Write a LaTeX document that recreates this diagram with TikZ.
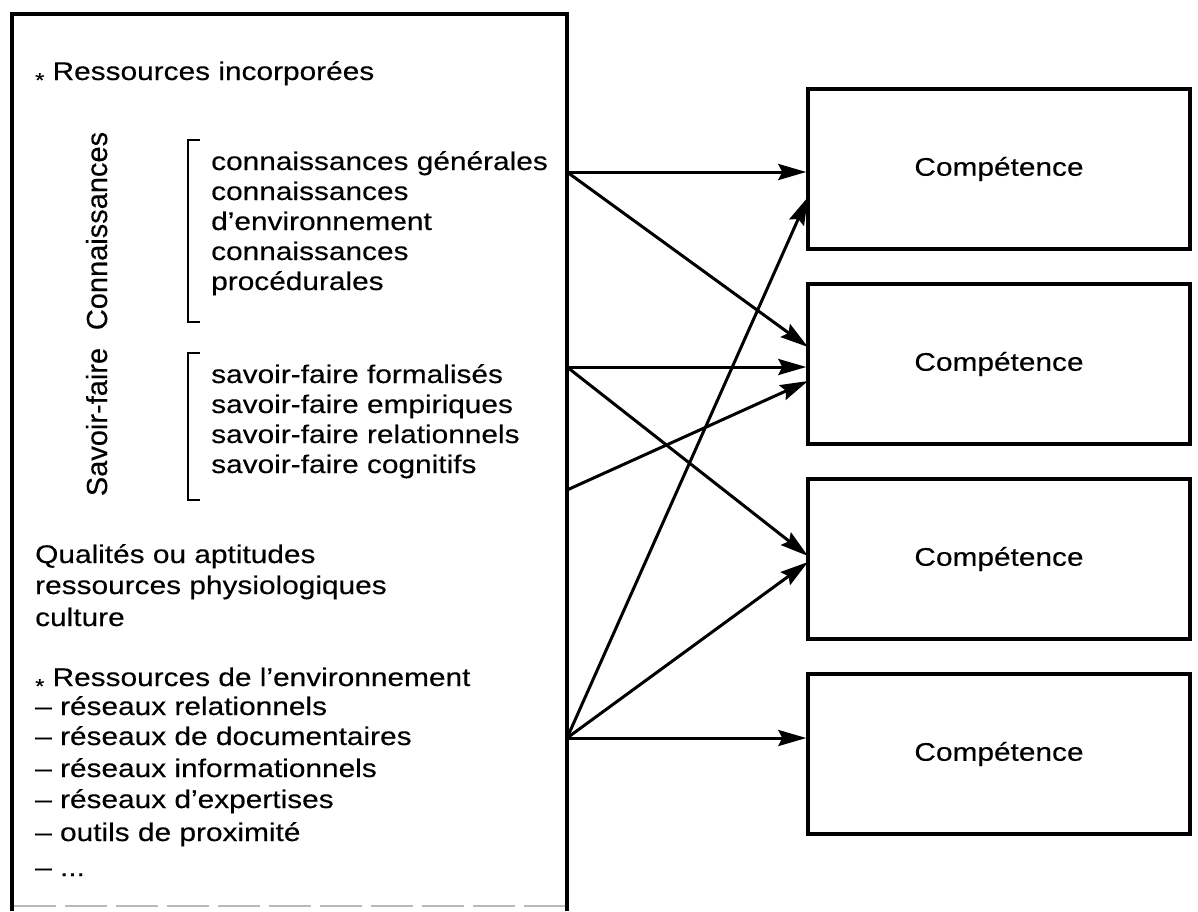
\documentclass[tikz,border=0pt]{standalone}
\usepackage{fontspec}
\setmainfont{Liberation Sans}[FakeStretch=1.17, FakeBold=0.3]
\newfontfamily\rotfont{Liberation Sans}[FakeBold=0.3]
\usetikzlibrary{arrows.meta}
\newcommand{\lowstar}{{\fontsize{20}{20}\selectfont\raisebox{-0.35em}{*}}}
\tikzset{
  txt/.style={anchor=base west, inner sep=0pt, font=\fontsize{25.5}{30}\selectfont},
  rot/.style={anchor=base, inner sep=0pt, rotate=90, font=\rotfont\fontsize{29}{30}\selectfont},
  compbox/.style={draw, line width=3.4pt, minimum width=382pt, minimum height=160pt, inner sep=0pt, font=\fontsize{25.5}{30}\selectfont},
  frame/.style={line width=3.4pt},
  brk/.style={line width=1.4pt},
  arr/.style={line width=3pt, -{Stealth[length=28pt, width=16pt, inset=4pt]}}
}
\begin{document}
\begin{tikzpicture}[x=1pt, y=-1pt]
\useasboundingbox (0,0) rectangle (1198,911);
% left frame
\draw[frame] (12,911) -- (12,14) -- (567,14) -- (567,911);
\draw[gray!55, line width=1.4pt, dash pattern=on 42pt off 9pt] (14,906) -- (565,906);

\node[txt] (ri) at (35,80) {\lowstar\ Ressources incorporées};

\node[rot] (conn) at (107,231) {Connaissances};
\node[rot] (sf) at (107,422) {Savoir-faire};

\draw[brk] (200,140) -- (188,140) -- (188,322) -- (200,322);
\draw[brk] (200,353) -- (188,353) -- (188,500) -- (200,500);

\node[txt] (k1) at (211,170) {connaissances générales};
\node[txt] (k2) at (211,200) {connaissances};
\node[txt] (k3) at (211,230) {d’environnement};
\node[txt] (k4) at (211,260) {connaissances};
\node[txt] (k5) at (211,290) {procédurales};

\node[txt] (f1) at (211,383) {savoir-faire formalisés};
\node[txt] (f2) at (211,413) {savoir-faire empiriques};
\node[txt] (f3) at (211,443) {savoir-faire relationnels};
\node[txt] (f4) at (211,473) {savoir-faire cognitifs};

\node[txt] (q1) at (35,563) {Qualités ou aptitudes};
\node[txt] (q2) at (35,594) {ressources physiologiques};
\node[txt] (q3) at (35,626) {culture};

\node[txt] (e0) at (35,686) {\lowstar\ Ressources de l’environnement};
\node[txt] (e1) at (35,715) {– réseaux relationnels};
\node[txt] (e2) at (35,745) {– réseaux de documentaires};
\node[txt] (e3) at (35,777) {– réseaux informationnels};
\node[txt] (e4) at (35,808) {– réseaux d’expertises};
\node[txt] (e5) at (35,841) {– outils de proximité};
\node[txt] (e6) at (35,876) {– ...};

% competence boxes
\node[compbox] (c1) at (999,169) {Compétence};
\node[compbox] (c2) at (999,364) {Compétence};
\node[compbox] (c3) at (999,559) {Compétence};
\node[compbox] (c4) at (999,754) {Compétence};

% sources on the frame
\coordinate (s1) at (567,172);
\coordinate (s2) at (567,367);
\coordinate (s3) at (567,490);
\coordinate (s4) at (567,738);
% targets on box edges
\coordinate (t12) at (808,347);
\coordinate (t23) at (808,556);
\coordinate (t32) at (808,381);
\coordinate (t41) at (808,197);
\coordinate (t43) at (808,562);

\draw[arr] (s1) -- (c1.west |- s1);
\draw[arr] (s1) -- (t12);
\draw[arr] (s2) -- (c2.west |- s2);
\draw[arr] (s2) -- (t23);
\draw[arr] (s3) -- (t32);
\draw[arr] (s4) -- (t41);
\draw[arr] (s4) -- (t43);
\draw[arr] (s4) -- (c4.west |- s4);
\end{tikzpicture}
\end{document}
